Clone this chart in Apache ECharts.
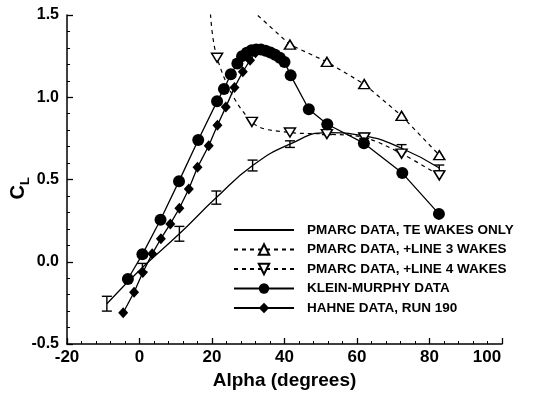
<!DOCTYPE html>
<html>
<head>
<meta charset="utf-8">
<script src="https://cdn.jsdelivr.net/npm/echarts@6/dist/echarts.min.js"></script>
<style>
html,body{margin:0;padding:0;background:#fff;}
#chart{width:537px;height:395px;}
</style>
</head>
<body>
<div id="chart"></div>
<script>
// ---- data ----
const xTicks = [-20, 0, 20, 40, 60, 80, 100];
const yTicks = [-0.5, 0.0, 0.5, 1.0, 1.5];

// PMARC DATA, TE WAKES ONLY (solid line, error-bar markers)
const alphaTE = [-9, 0.8, 11, 21.2, 31.2, 41.5, 51.7, 62, 72.3, 82.7];
const clTE    = [-0.255, -0.035, 0.17, 0.39, 0.585, 0.715, 0.785, 0.765, 0.69, 0.57];
const errTE   = [0.045, 0.025, 0.045, 0.04, 0.033, 0.02, 0.012, 0.015, 0.022, 0.018];

// PMARC DATA, +LINE 3 WAKES
const alphaL3 = [31, 41.5, 51.7, 62, 72.3, 82.7];
const clL3    = [1.53, 1.32, 1.215, 1.08, 0.887, 0.648];

// PMARC DATA, +LINE 4 WAKES
const alphaL4 = [19.2, 21.4, 31, 41.5, 51.7, 62, 72.3, 82.7];
const clL4    = [1.7, 1.24, 0.85, 0.786, 0.776, 0.755, 0.657, 0.525];

// KLEIN-MURPHY DATA
const alphaKM = [-3.2, 0.8, 5.8, 10.9, 16.2, 21.4, 23.3, 25.2, 27, 28.3, 29.6, 30.9, 32.2, 33.5, 34.8, 36.1, 37.4, 38.7, 40, 41.7, 46.7, 51.8, 61.9, 72.5, 82.6];
const clKM    = [-0.105, 0.045, 0.255, 0.49, 0.74, 0.975, 1.05, 1.14, 1.205, 1.25, 1.27, 1.285, 1.29, 1.29, 1.282, 1.272, 1.258, 1.24, 1.215, 1.133, 0.927, 0.836, 0.721, 0.539, 0.291];

// HAHNE DATA, RUN 190
const alphaHA = [-4.5, -1.5, 0.9, 3.5, 5.9, 8.5, 11, 13.6, 16, 19.1, 21.5, 23.8, 26.2, 28.5, 30.5, 32];
const clHA    = [-0.31, -0.185, -0.065, 0.048, 0.14, 0.23, 0.325, 0.442, 0.574, 0.705, 0.83, 0.94, 1.06, 1.155, 1.225, 1.27];

const names = ['PMARC DATA, TE WAKES ONLY', 'PMARC DATA, +LINE 3 WAKES', 'PMARC DATA, +LINE 4 WAKES', 'KLEIN-MURPHY DATA', 'HAHNE DATA, RUN 190'];

const pair = (xs, ys) => xs.map((x, i) => [x, ys[i]]);
const FONT = 'Liberation Sans, Arial, sans-serif';

const L = 67, R = 35, T = 15, B = 51, W = 537, H = 395;
const XMIN = xTicks[0], XMAX = xTicks[xTicks.length - 1];
const YMIN = yTicks[0], YMAX = yTicks[yTicks.length - 1];

// tick-only axes living in thin side grids, so their outward ticks point into the main plot
const tickOnly = {
  axisLine: {show: false, onZero: false},
  axisLabel: {show: false},
  axisTick: {show: true, length: 6, lineStyle: {color: '#000', width: 1.3}},
  minorTick: {show: true, splitNumber: 5, length: 3, lineStyle: {color: '#000', width: 1}},
  splitLine: {show: false}
};
const hidden = {show: false, axisLine: {onZero: false}};

const chart = echarts.init(document.getElementById('chart'), null, {renderer: 'canvas'});
chart.setOption({
  animation: false,
  backgroundColor: '#fff',
  grid: [
    {left: L, right: R, top: T, bottom: B},
    {left: 0, width: L, top: T, bottom: B},
    {left: L, right: R, top: H - B, height: B}
  ],
  legend: {
    orient: 'vertical', left: 233, top: 223, padding: 0,
    itemWidth: 60, itemHeight: 13, itemGap: 5.5,
    textStyle: {fontFamily: FONT, fontWeight: 'bold', fontSize: 13.5, color: '#000', padding: [0, 0, 0, 8]},
    data: [
      {name: names[0], itemStyle: {opacity: 0}},
      names[1], names[2], names[3], names[4]
    ]
  },
  graphic: [{
    type: 'text', left: 8, top: 177, rotation: Math.PI / 2,
    style: {
      text: '{c|C}{l|L}',
      rich: {
        c: {fontFamily: FONT, fontWeight: 'bold', fontSize: 20, fill: '#000', verticalAlign: 'bottom'},
        l: {fontFamily: FONT, fontWeight: 'bold', fontSize: 13, fill: '#000', verticalAlign: 'bottom', padding: [0, 0, -4, 0]}
      }
    }
  }],
  xAxis: [{
    gridIndex: 0, type: 'value', min: XMIN, max: XMAX, interval: 20,
    name: 'Alpha (degrees)', nameLocation: 'middle', nameGap: 23,
    nameTextStyle: {fontFamily: FONT, fontWeight: 'bold', fontSize: 19, color: '#000'},
    axisLine: {show: true, onZero: false, lineStyle: {color: '#000', width: 1.5}},
    axisTick: {show: false},
    splitLine: {show: false},
    axisLabel: {
      fontFamily: FONT, fontWeight: 'bold', fontSize: 17, color: '#000', margin: 5,
      formatter: v => v === 100 ? '{r|100}' : String(v),
      rich: {r: {fontFamily: FONT, fontWeight: 'bold', fontSize: 17, color: '#000', padding: [0, 30, 0, 0]}}
    }
  },
  Object.assign({gridIndex: 1, type: 'value', min: 0, max: 1}, hidden),
  Object.assign({gridIndex: 2, type: 'value', position: 'top', min: XMIN, max: XMAX, interval: 20}, tickOnly)
  ],
  yAxis: [{
    gridIndex: 0, type: 'value', min: YMIN, max: YMAX, interval: 0.5,
    axisLine: {show: true, onZero: false, lineStyle: {color: '#000', width: 1.5}},
    axisTick: {show: false},
    splitLine: {show: false},
    axisLabel: {fontFamily: FONT, fontWeight: 'bold', fontSize: 16, color: '#000', margin: 8,
      formatter: v => v.toFixed(1)}
  },
  Object.assign({gridIndex: 1, type: 'value', position: 'right', min: YMIN, max: YMAX, interval: 0.5}, tickOnly),
  Object.assign({gridIndex: 2, type: 'value', min: 0, max: 1}, hidden)
  ],
  series: [
    {
      name: names[0], type: 'line', data: pair(alphaTE, clTE), smooth: 0.5,
      symbol: 'none', lineStyle: {color: '#000', width: 1.3}, itemStyle: {color: '#000'}, z: 2
    },
    {
      name: 'errbars', type: 'custom', data: alphaTE.map((a, i) => [a, clTE[i], errTE[i]]), z: 3,
      renderItem: (params, api) => {
        const x = api.value(0), c = api.value(1), e = api.value(2);
        const t = api.coord([x, c + e]), b = api.coord([x, c - e]);
        const hw = 5, st = {stroke: '#000', lineWidth: 1.4};
        return {type: 'group', children: [
          {type: 'line', shape: {x1: t[0], y1: t[1], x2: b[0], y2: b[1]}, style: st},
          {type: 'line', shape: {x1: t[0] - hw, y1: t[1], x2: t[0] + hw, y2: t[1]}, style: st},
          {type: 'line', shape: {x1: b[0] - hw, y1: b[1], x2: b[0] + hw, y2: b[1]}, style: st}
        ]};
      }
    },
    {
      name: names[1], type: 'line', data: pair(alphaL3, clL3),
      symbol: 'triangle', symbolSize: [11, 9], showAllSymbol: true,
      lineStyle: {color: '#000', width: 1.2, type: [4, 4]},
      itemStyle: {color: '#fff', borderColor: '#000', borderWidth: 1.5}, z: 4
    },
    {
      name: names[2], type: 'line', data: pair(alphaL4, clL4), smooth: 0.35,
      symbol: 'triangle', symbolRotate: 180, symbolSize: [11, 9], showAllSymbol: true,
      lineStyle: {color: '#000', width: 1.2, type: [4, 4]},
      itemStyle: {color: '#fff', borderColor: '#000', borderWidth: 1.5}, z: 4
    },
    {
      name: names[3], type: 'line', data: pair(alphaKM, clKM),
      symbol: 'circle', symbolSize: 12, showAllSymbol: true,
      lineStyle: {color: '#000', width: 1.3}, itemStyle: {color: '#000'}, z: 5
    },
    {
      name: names[4], type: 'line', data: pair(alphaHA, clHA),
      symbol: 'diamond', symbolSize: [10, 11], showAllSymbol: true,
      lineStyle: {color: '#000', width: 1.3}, itemStyle: {color: '#000'}, z: 5
    }
  ]
});
</script>
</body>
</html>
